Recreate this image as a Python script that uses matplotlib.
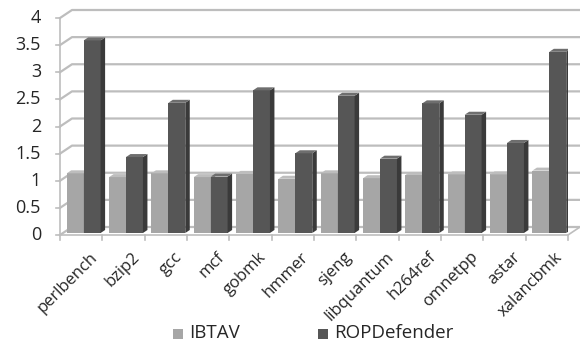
import matplotlib.pyplot as plt
from matplotlib.patches import Polygon
import numpy as np

plt.rcParams['font.family'] = ['Open Sans', 'DejaVu Sans']

benchmarks = ['perlbench', 'bzip2', 'gcc', 'mcf', 'gobmk', 'hmmer', 'sjeng',
              'libquantum', 'h264ref', 'omnetpp', 'astar', 'xalancbmk']
ibtav = [1.10, 1.03, 1.10, 1.03, 1.09, 1.00, 1.10, 1.01, 1.07, 1.08, 1.08, 1.15]
ropdefender = [3.55, 1.40, 2.40, 1.04, 2.63, 1.47, 2.53, 1.37, 2.39, 2.18, 1.66, 3.34]
yticks = [0, 0.5, 1, 1.5, 2, 2.5, 3, 3.5, 4]

W, H = 580, 346
fig = plt.figure(figsize=(W / 100, H / 100), dpi=100)
ax = fig.add_axes([60 / W, (H - 235) / H, 508 / W, 217 / H])
ax.set_xlim(-0.5, len(benchmarks) - 0.5)
ax.set_ylim(0, 4)
for s in ax.spines.values():
    s.set_visible(False)
ax.set_xticks([])
ax.set_yticks([])
ax.patch.set_alpha(0)


def px(dx, dy):
    # pixel offset -> data offset
    p0 = ax.transData.transform((0, 0))
    p1 = ax.transData.inverted().transform(p0 + np.array([dx, dy]))
    return p1[0], p1[1]


txt_c = '#262626'
grid_c = '#bdbdbd'
bdx, bdy = px(12, 8)
x0, x1 = -0.5, len(benchmarks) - 0.5
# back wall gridlines with side wall diagonals
for y in yticks:
    ax.plot([x0, x0 + bdx, x1 + bdx], [y, y + bdy, y + bdy], color=grid_c,
            lw=1.6, clip_on=False, zorder=1)
# floor
ax.plot([x0, x1, x1 + bdx], [0, 0, bdy], color=grid_c, lw=1.2, clip_on=False, zorder=1)
# front vertical axis
ax.plot([x0, x0], [0, 4], color=grid_c, lw=1.2, clip_on=False, zorder=1)
tdx, tdy = px(4, 5)
for y in yticks:
    ax.plot([x0 - tdx, x0], [y, y], color=grid_c, lw=1.2, clip_on=False)
    ax.text(x0 - px(19, 0)[0], y, f'{y:g}', ha='right', va='center',
            fontsize=13, color=txt_c)
for i in range(len(benchmarks) + 1):
    ax.plot([x0 + i, x0 + i], [0, -tdy], color=grid_c, lw=1.2, clip_on=False)

# 3D-looking bars
fdx, fdy = px(2.5, 2)
sdx, sdy = px(4.5, 3)
w = 0.40
series = [(ibtav, -w, '#a6a6a6', '#8c8c8c', '#bdbdbd'),
          (ropdefender, 0, '#565656', '#3a3a3a', '#6e6e6e')]
xs = np.arange(len(benchmarks))
for vals, off, fc, sc, tc in series:
    for x, v in zip(xs, vals):
        l = x + off + fdx
        r = l + w
        b = fdy
        t = v + fdy
        ax.add_patch(Polygon([(l, b), (r, b), (r, t), (l, t)], closed=True,
                             fc=fc, ec='none', zorder=3))
        ax.add_patch(Polygon([(r, b), (r + sdx, b + sdy), (r + sdx, t + sdy), (r, t)],
                             closed=True, fc=sc, ec='none', zorder=3))
        ax.add_patch(Polygon([(l, t), (r, t), (r + sdx, t + sdy), (l + sdx, t + sdy)],
                             closed=True, fc=tc, ec='none', zorder=3))

# category labels
ldx, ldy = px(8, -14)
for x, name in zip(xs, benchmarks):
    ax.text(x + ldx, ldy, name, rotation=45, ha='right', va='top',
            rotation_mode='anchor', fontsize=12, color=txt_c)

# legend
fig.patches.append(plt.Rectangle((173 / W, (H - 339) / H), 10 / W, 10 / H,
                                 transform=fig.transFigure, fc='#a6a6a6', ec='none'))
fig.text(189 / W, (H - 333) / H, 'IBTAV', ha='left', va='center', fontsize=13.5, color=txt_c)
fig.patches.append(plt.Rectangle((318 / W, (H - 339) / H), 10 / W, 10 / H,
                                 transform=fig.transFigure, fc='#565656', ec='none'))
fig.text(334 / W, (H - 333) / H, 'ROPDefender', ha='left', va='center', fontsize=13.5, color=txt_c)

fig.savefig('out.png', dpi=100)
